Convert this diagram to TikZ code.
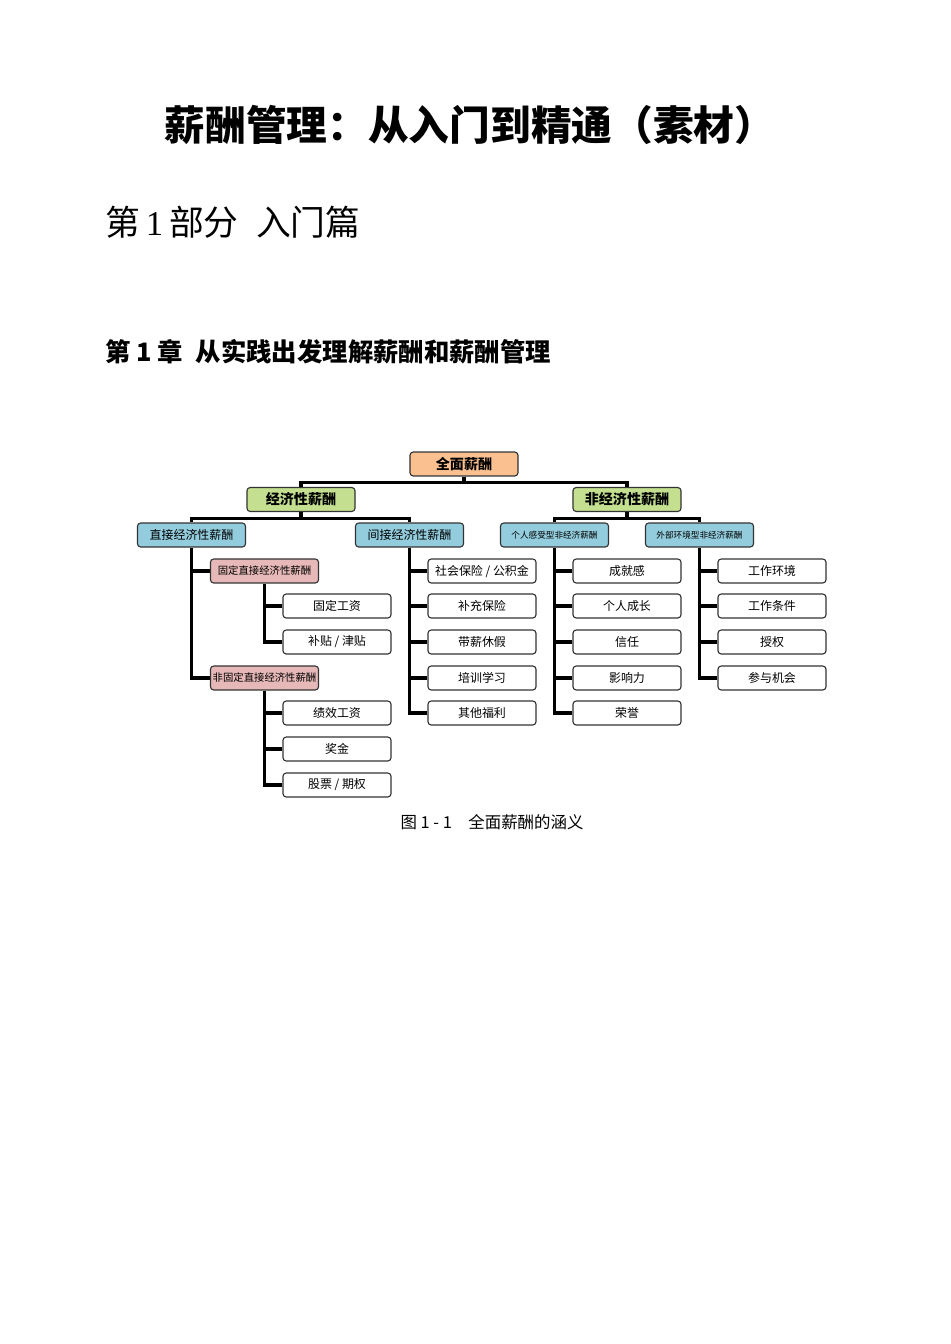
\documentclass[tikz,border=0pt]{standalone}
\usepackage{fontspec}
\setmainfont{Liberation Serif}
\newfontfamily\cjk{Noto Sans CJK SC}
\usepackage{tikz}
\usetikzlibrary{positioning}

\definecolor{rootfill}{HTML}{FAC090}
\definecolor{ecofill}{HTML}{C3DF8F}
\definecolor{kindfill}{HTML}{93CDDD}
\definecolor{partfill}{HTML}{E6B9B8}
\definecolor{boxline}{HTML}{333333}

\begin{document}
\begin{tikzpicture}[
  x=0.62663pt, y=-0.62663pt,
  every node/.style={font=\cjk},
  box/.style={draw=boxline, line width=0.7pt, rounded corners=2pt, fill=#1,
    minimum width=67.7pt, minimum height=15pt, inner sep=0pt},
  box/.default=white,
  leaf/.style={box, font=\cjk\fontsize{7.5pt}{8pt}\selectfont},
  branch/.style={line width=1.9pt, black},
]
\useasboundingbox[fill=white] (0,0) rectangle (950,1344);

% --- headings
\node[font=\cjk\bfseries\fontsize{25.5pt}{28pt}\selectfont] (title) at (470,125) {薪酬管理：从入门到精通（素材）};
\node[anchor=west, inner sep=0pt, font=\cjk\fontsize{21.8pt}{24pt}\selectfont] (part) at (105,222)
  {第{\rmfamily\,1\,}部分\hspace{0.5em}入门篇};
\node[anchor=west, inner sep=0pt, font=\cjk\bfseries\fontsize{15.9pt}{18pt}\selectfont] (chapter) at (105,352)
  {第 1 章\hspace{0.5em}从实践出发理解薪酬和薪酬管理};

% --- top levels
\node[box=rootfill, font=\cjk\bfseries\fontsize{8.8pt}{10pt}\selectfont] (total) at (464,464) {全面薪酬};
\node[box=ecofill, font=\cjk\bfseries\fontsize{8.8pt}{10pt}\selectfont] (eco) at (301,499.5) {经济性薪酬};
\node[box=ecofill, font=\cjk\bfseries\fontsize{8.8pt}{10pt}\selectfont] (noneco) at (627,499.5) {非经济性薪酬};

\node[box=kindfill, font=\cjk\fontsize{7.5pt}{8pt}\selectfont] (direct) at (191.5,535) {直接经济性薪酬};
\node[box=kindfill, font=\cjk\fontsize{7.5pt}{8pt}\selectfont] (indirect) at (409.5,535) {间接经济性薪酬};
\node[box=kindfill, font=\cjk\fontsize{5.4pt}{6pt}\selectfont] (feel) at (554.5,535) {个人感受型非经济薪酬};
\node[box=kindfill, font=\cjk\fontsize{5.4pt}{6pt}\selectfont] (env) at (699.5,535) {外部环境型非经济薪酬};

% --- direct pay
\node[box=partfill, font=\cjk\fontsize{6.5pt}{7pt}\selectfont] (fixed) at (264.5,571) {固定直接经济性薪酬};
\node[box=partfill, font=\cjk\fontsize{6.5pt}{7pt}\selectfont] (varpay) at (264.5,678) {非固定直接经济性薪酬};

\node[leaf] (wage) at (337,606) {固定工资};
\node[leaf] (allow) at (337,642) {补贴 / 津贴};
\node[leaf] (perf) at (337,713) {绩效工资};
\node[leaf] (bonus) at (337,749) {奖金};
\node[leaf] (stock) at (337,785) {股票 / 期权};

% --- indirect pay
\node[leaf] (insur) at (482,571) {社会保险 / 公积金};
\node[leaf] (suppl) at (482,606) {补充保险};
\node[leaf] (leave) at (482,642) {带薪休假};
\node[leaf] (train) at (482,678) {培训学习};
\node[leaf] (other) at (482,713) {其他福利};

% --- personal feeling
\node[leaf] (achieve) at (627,571) {成就感};
\node[leaf] (grow) at (627,606) {个人成长};
\node[leaf] (trust) at (627,642) {信任};
\node[leaf] (influ) at (627,678) {影响力};
\node[leaf] (honor) at (627,713) {荣誉};

% --- external environment
\node[leaf] (workenv) at (772,571) {工作环境};
\node[leaf] (workcond) at (772,606) {工作条件};
\node[leaf] (empower) at (772,642) {授权};
\node[leaf] (partic) at (772,678) {参与机会};

% --- connectors
\draw[branch] (total.south) -- ++(0,6) -| (eco.north);
\draw[branch] (total.south) -- ++(0,6) -| (noneco.north);
\draw[branch] (eco.south) -- ++(0,6) -| (direct.north);
\draw[branch] (eco.south) -- ++(0,6) -| (indirect.north);
\draw[branch] (noneco.south) -- ++(0,6) -| (feel.north);
\draw[branch] (noneco.south) -- ++(0,6) -| (env.north);

\draw[branch] (direct.south) |- (fixed.west) (direct.south) |- (varpay.west);
\draw[branch] (fixed.south) |- (wage.west) (fixed.south) |- (allow.west);
\draw[branch] (varpay.south) |- (perf.west) (varpay.south) |- (bonus.west)
  (varpay.south) |- (stock.west);
\draw[branch] (indirect.south) |- (insur.west) (indirect.south) |- (suppl.west)
  (indirect.south) |- (leave.west) (indirect.south) |- (train.west)
  (indirect.south) |- (other.west);
\draw[branch] (feel.south) |- (achieve.west) (feel.south) |- (grow.west)
  (feel.south) |- (trust.west) (feel.south) |- (influ.west)
  (feel.south) |- (honor.west);
\draw[branch] (env.south) |- (workenv.west) (env.south) |- (workcond.west)
  (env.south) |- (empower.west) (env.south) |- (partic.west);

% --- caption
\node[font=\cjk\fontsize{10.3pt}{12pt}\selectfont] (caption) at (492,822) {图 1 - 1\hspace{1em}全面薪酬的涵义};
\end{tikzpicture}
\end{document}
